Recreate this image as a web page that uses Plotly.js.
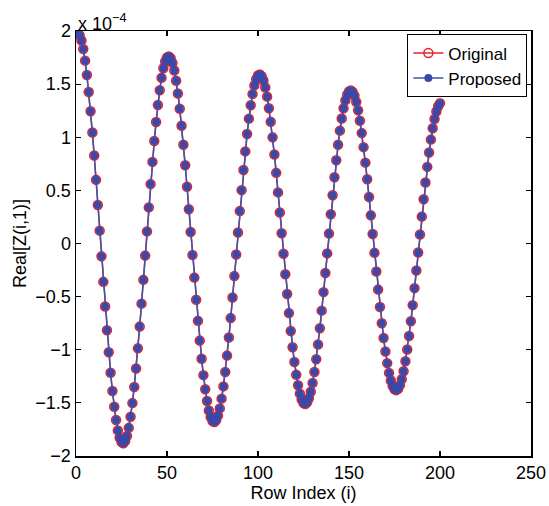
<!DOCTYPE html>
<html>
<head>
<meta charset="utf-8">
<script src="https://cdn.plot.ly/plotly-3.0.1.min.js"></script>
<style>html,body{margin:0;padding:0;background:#fff;}#chart{width:549px;height:506px;}</style>
</head>
<body>
<div id="chart"></div>
<script>
// Row indices 1..200
const rowIndex = Array.from({length: 200}, (_, k) => k + 1);

// Real[Z(i,1)] values in units of 1e-4
const originalValues = [
 1.980, 1.960, 1.910, 1.830, 1.721, 1.586, 1.426, 1.244, 1.044, 0.828,
 0.599, 0.363, 0.121, -0.121, -0.361, -0.593, -0.816, -1.024, -1.216, -1.388,
 -1.537, -1.661, -1.759, -1.829, -1.869, -1.880, -1.860, -1.812, -1.735, -1.631,
 -1.502, -1.350, -1.177, -0.987, -0.782, -0.566, -0.342, -0.114, 0.114, 0.340,
 0.559, 0.768, 0.964, 1.143, 1.304, 1.443, 1.559, 1.650, 1.714, 1.751,
 1.760, 1.743, 1.699, 1.628, 1.531, 1.411, 1.269, 1.108, 0.929, 0.737,
 0.534, 0.323, 0.108, -0.108, -0.321, -0.529, -0.728, -0.914, -1.085, -1.239,
 -1.372, -1.483, -1.571, -1.633, -1.670, -1.680, -1.663, -1.620, -1.552, -1.460,
 -1.345, -1.209, -1.055, -0.885, -0.702, -0.508, -0.307, -0.103, 0.103, 0.305,
 0.502, 0.691, 0.867, 1.030, 1.175, 1.301, 1.406, 1.488, 1.547, 1.581,
 1.590, 1.574, 1.534, 1.469, 1.382, 1.273, 1.145, 0.999, 0.838, 0.665,
 0.481, 0.291, 0.097, -0.097, -0.290, -0.476, -0.655, -0.823, -0.977, -1.115,
 -1.235, -1.334, -1.413, -1.469, -1.501, -1.510, -1.495, -1.457, -1.396, -1.313,
 -1.210, -1.089, -0.950, -0.797, -0.632, -0.458, -0.277, -0.093, 0.093, 0.276,
 0.454, 0.624, 0.784, 0.930, 1.062, 1.176, 1.272, 1.347, 1.400, 1.431,
 1.440, 1.426, 1.390, 1.332, 1.253, 1.155, 1.039, 0.907, 0.761, 0.604,
 0.438, 0.265, 0.089, -0.088, -0.264, -0.434, -0.597, -0.750, -0.890, -1.017,
 -1.126, -1.218, -1.290, -1.341, -1.371, -1.380, -1.367, -1.333, -1.278, -1.202,
 -1.108, -0.997, -0.871, -0.731, -0.580, -0.420, -0.254, -0.085, 0.085, 0.253,
 0.417, 0.574, 0.721, 0.857, 0.978, 1.084, 1.172, 1.242, 1.292, 1.321
];
// Proposed values coincide with the original ones in the picture
const proposedValues = originalValues;

const seriesNames = ['Original', 'Proposed'];
const xTickVals = [0, 50, 100, 150, 200, 250];
const yTickVals = [-2, -1.5, -1, -0.5, 0, 0.5, 1, 1.5, 2];

const font = '"Liberation Sans", Arial, sans-serif';
const fs = 18;

const traces = [
  {
    x: rowIndex, y: originalValues, name: seriesNames[0],
    type: 'scatter', mode: 'lines+markers',
    line: {color: '#e5232b', width: 1.5},
    marker: {symbol: 'circle-open', size: 9, color: '#e5232b', line: {width: 1.5, color: '#e5232b'}}
  },
  {
    x: rowIndex, y: proposedValues, name: seriesNames[1],
    type: 'scatter', mode: 'lines+markers',
    line: {color: '#3a55ae', width: 1.5},
    marker: {symbol: 'circle', size: 8, color: '#3b48a8', line: {width: 0}}
  }
];

const axisCommon = {
  showgrid: false, zeroline: false,
  showline: true, linecolor: '#000', linewidth: 1.5, mirror: 'ticks',
  ticks: 'inside', ticklen: 5, tickwidth: 1.2, tickcolor: '#000',
  tickfont: {family: font, size: fs, color: '#000'}
};

const layout = {
  width: 549, height: 506,
  margin: {l: 76, r: 18, t: 31, b: 50},
  paper_bgcolor: '#fff', plot_bgcolor: '#fff',
  showlegend: true,
  legend: {
    x: 0.992, y: 0.992, xanchor: 'right', yanchor: 'top',
    bgcolor: '#fff', bordercolor: '#000', borderwidth: 1,
    font: {family: font, size: 17, color: '#000'},
    tracegroupgap: 0, itemwidth: 30
  },
  xaxis: Object.assign({}, axisCommon, {
    range: [0, 250], tickvals: xTickVals,
    title: {text: 'Row Index (i)', font: {family: font, size: fs, color: '#000'}, standoff: 0}
  }),
  yaxis: Object.assign({}, axisCommon, {
    range: [-2, 2], tickvals: yTickVals,
    title: {text: 'Real[Z(i,1)]', font: {family: font, size: fs, color: '#000'}, standoff: 4}
  }),
  annotations: [{
    xref: 'paper', yref: 'paper', x: 0, y: 1, xanchor: 'left', yanchor: 'bottom',
    xshift: 0, yshift: -5,
    text: 'x 10<sup>\u22124</sup>', showarrow: false,
    font: {family: font, size: fs, color: '#000'}
  }]
};

Plotly.newPlot('chart', traces, layout, {displayModeBar: false, staticPlot: true});
</script>
</body>
</html>
